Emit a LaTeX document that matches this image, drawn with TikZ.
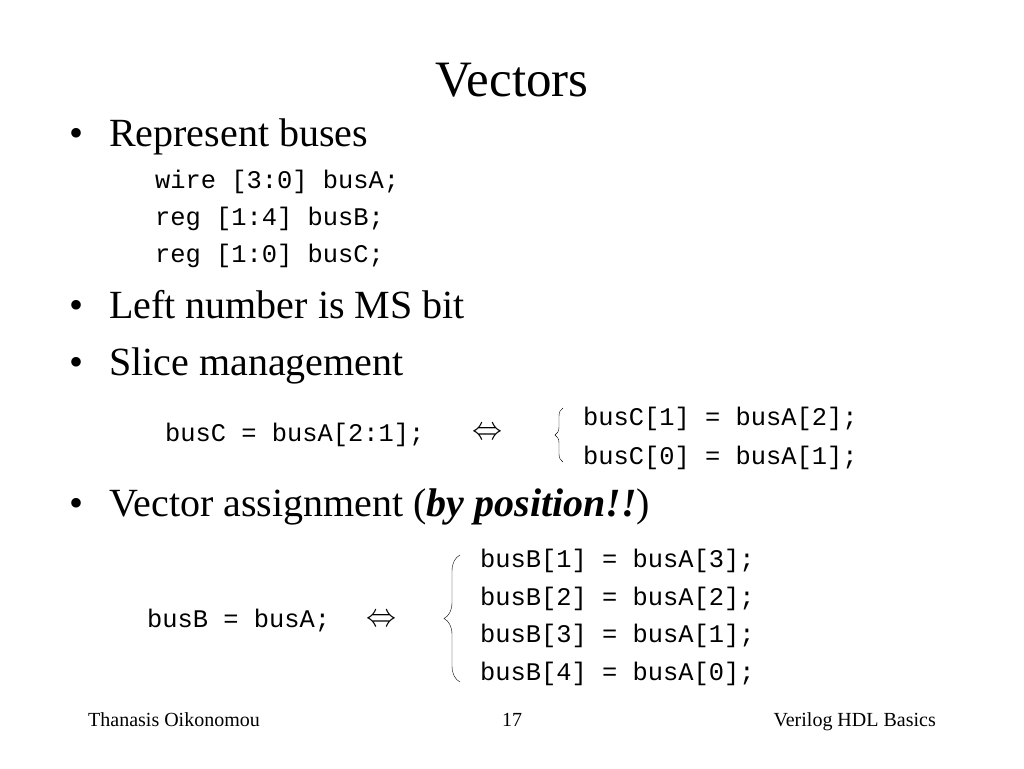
\documentclass[tikz,border=0pt]{standalone}
\usepackage{fontspec}
\setmainfont{Liberation Serif}
\setmonofont{Liberation Mono}
\usetikzlibrary{decorations.pathreplacing}
\newcommand{\iffarrow}{\resizebox{30pt}{12pt}{$\Leftrightarrow$}}
\begin{document}
\begin{tikzpicture}[x=1pt,y=-1pt,
  txt/.style={inner sep=0pt,anchor=base west,font=\fontsize{40}{44}\selectfont},
  code/.style={inner sep=0pt,anchor=base west,font=\fontsize{25.4}{28}\selectfont\ttfamily},
  foot/.style={inner sep=0pt,font=\fontsize{20}{24}\selectfont},
  dot/.style={inner sep=0pt,anchor=base,font=\fontsize{40}{44}\selectfont},
  curly/.style={decorate,decoration={brace,amplitude=#1},thin}]
\useasboundingbox[fill=white] (0,0) rectangle (1024,768);
\node[inner sep=0pt,anchor=base,font=\fontsize{51}{54}\selectfont] (title) at (512,96) {Vectors};

% bullets
\node[dot] (d1) at (77,146) {\textbullet};
\node[txt] (b1) at (109,146) {Represent buses};
\node[code] (c1) at (155,188) {wire [3:0] busA;};
\node[code] (c2) at (155,225) {reg [1:4] busB;};
\node[code] (c3) at (155,262) {reg [1:0] busC;};
\node[dot] (d2) at (77,318) {\textbullet};
\node[txt] (b2) at (109,318) {Left number is MS bit};
\node[dot] (d3) at (77,375) {\textbullet};
\node[txt] (b3) at (109,375) {Slice management};

% slice
\node[code] (sl) at (165,441) {busC = busA[2:1];};
\node[inner sep=0pt] (eq1) at (487,433) {\iffarrow};
\draw[curly=8pt] (563,462)--(563,408);
\node[code] (s1) at (583,425) {busC[1] = busA[2];};
\node[code] (s2) at (583,464) {busC[0] = busA[1];};

\node[dot] (d4) at (77,516) {\textbullet};
\node[txt] (b4) at (109,516) {Vector assignment (\textbf{\textit{by position!!}})};

% assignment
\node[code] (as) at (147,627) {busB = busA;};
\node[inner sep=0pt] (eq2) at (381,620) {\iffarrow};
\draw[curly=16pt] (460,682)--(460,555);
\node[code] (a1) at (480,567) {busB[1] = busA[3];};
\node[code] (a2) at (480,605) {busB[2] = busA[2];};
\node[code] (a3) at (480,642) {busB[3] = busA[1];};
\node[code] (a4) at (480,680) {busB[4] = busA[0];};

% footer
\node[foot,anchor=base west] (f1) at (88,726) {Thanasis Oikonomou};
\node[foot,anchor=base] (f2) at (512,726) {17};
\node[foot,anchor=base east] (f3) at (936,726) {Verilog HDL Basics};
\end{tikzpicture}
\end{document}
